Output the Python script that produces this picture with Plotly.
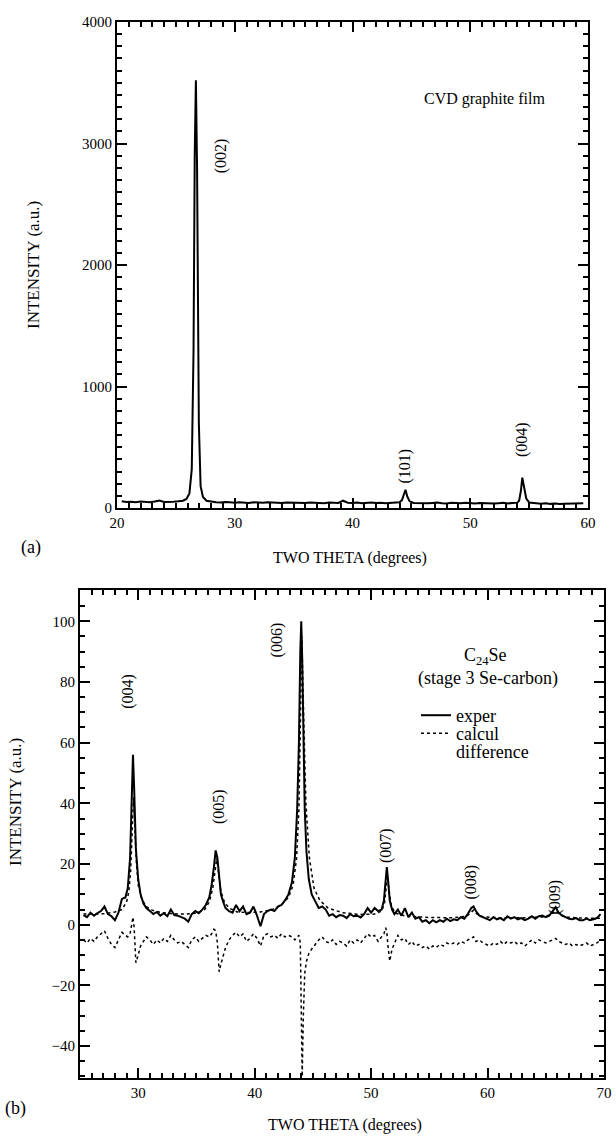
import plotly.graph_objects as go

# ---------------- panel (a): CVD graphite film ----------------
two_theta_a = [20.4, 20.8, 21.2, 21.6, 22.0, 22.4, 22.8, 23.2, 23.6, 24.0, 24.4, 24.8, 25.2, 25.6,
               25.9, 26.15, 26.35, 26.5, 26.6, 26.7, 26.8, 26.95, 27.1, 27.3, 27.6,
               28.0, 28.4, 28.8, 29.2, 29.6, 30.0, 30.4, 30.8, 31.2, 31.6, 32.0, 32.4, 32.8, 33.2,
               33.6, 34.0, 34.4, 34.8, 35.2, 35.6, 36.0, 36.4, 36.8, 37.2, 37.6, 38.0, 38.4, 38.8,
               39.2, 39.6, 40.0, 40.4, 40.8, 41.2, 41.6, 42.0, 42.4, 42.8, 43.2, 43.6, 44.0,
               44.2, 44.35, 44.5, 44.65, 44.85,
               45.2, 45.6, 46.0, 46.4, 46.8, 47.2, 47.6, 48.0, 48.4, 48.8, 49.2, 49.6, 50.0, 50.4,
               50.8, 51.2, 51.6, 52.0, 52.4, 52.8, 53.2, 53.6, 54.0,
               54.15, 54.3, 54.42, 54.55, 54.75, 55.0,
               55.6, 56.0, 56.4, 56.8, 57.2, 57.6, 58.0, 58.4, 58.8, 59.2, 59.6]
intensity_a = [55, 50, 52, 48, 54, 50, 47, 53, 62, 50, 48, 52, 55, 60,
               75, 120, 320, 1300, 2900, 3520, 2800, 700, 180, 90, 60,
               52, 48, 45, 50, 47, 44, 48, 46, 42, 47, 45, 43, 48, 44,
               46, 42, 45, 43, 47, 44, 41, 45, 42, 44, 40, 46, 43, 41,
               60, 44, 42, 45, 40, 43, 46, 41, 44, 40, 43, 45, 48,
               65, 110, 150, 95, 55,
               42, 40, 44, 39, 42, 45, 40, 38, 43, 41, 39, 44, 40, 38,
               42, 39, 41, 37, 40, 43, 38, 41, 44,
               60, 140, 250, 190, 80, 45,
               38, 35, 39, 34, 37, 33, 36, 38, 34, 37, 40]

labels_a = ["(002)", "(101)", "(004)"]
labels_a_x = [28.8, 44.5, 54.4]
labels_a_y = [2900, 345, 560]

# ---------------- panel (b): C24Se ----------------
two_theta_b = [25.3, 25.6, 25.9, 26.2, 26.5, 26.8, 27.1, 27.4, 27.7, 28.0, 28.3, 28.6, 28.9,
               29.1, 29.3, 29.45, 29.55, 29.65, 29.8, 30.0, 30.2, 30.45, 30.7, 31.0,
               31.3, 31.6, 31.9, 32.2, 32.5, 32.8, 33.1, 33.4, 33.7, 34.0, 34.3, 34.6, 34.9, 35.2, 35.5, 35.8, 36.1,
               36.3, 36.5, 36.65, 36.8, 36.95, 37.1, 37.3, 37.5, 37.8,
               38.1, 38.4, 38.7, 39.0, 39.3, 39.6, 39.9, 40.2, 40.5, 40.8, 41.1, 41.4, 41.7, 42.0, 42.3, 42.6, 42.9, 43.2,
               43.45, 43.65, 43.8, 43.92, 44.0, 44.08, 44.18, 44.3, 44.45, 44.65, 44.9,
               45.2, 45.5, 45.8, 46.1, 46.4, 46.7, 47.0, 47.3, 47.6, 47.9, 48.2, 48.5, 48.8, 49.1, 49.4, 49.7, 50.0, 50.3, 50.6, 50.9,
               51.1, 51.25, 51.35, 51.45, 51.6, 51.8,
               52.0, 52.3, 52.6, 52.9, 53.2, 53.5, 53.8, 54.1, 54.4, 54.7, 55.0, 55.3, 55.6, 55.9, 56.2, 56.5, 56.8, 57.1, 57.4, 57.7, 58.0, 58.3,
               58.6, 58.8,
               59.0, 59.3, 59.6, 59.9, 60.2, 60.5, 60.8, 61.1, 61.4, 61.7, 62.0, 62.3, 62.6, 62.9, 63.2, 63.5, 63.8, 64.1, 64.4, 64.7, 65.0, 65.3,
               65.6, 65.85,
               66.1, 66.4, 66.7, 67.0, 67.3, 67.6, 67.9, 68.2, 68.5, 68.8, 69.1, 69.4, 69.7]
exper_b = [3.2, 2.5, 4.0, 3.0, 3.8, 4.5, 6.0, 3.5, 2.8, 1.5, 4.0, 8.5, 9.0,
           12, 22, 40, 56, 45, 25, 15, 10, 7, 5.5, 4.5,
           3.5, 4.2, 3.0, 3.8, 2.8, 5.0, 3.2, 3.0, 2.6, 2.0, 1.0, 3.5, 4.5, 3.8, 5.0, 6.5, 9.0,
           13, 19, 24.5, 22, 15, 10, 7.5, 5.5, 4.5,
           4.0, 6.5, 4.5, 6.0, 3.5, 4.0, 6.0, 3.0, -0.5, 3.5, 4.5, 5.0, 4.5, 6.0, 6.5, 8.0, 10, 14,
           22, 38, 60, 90, 100, 88, 60, 38, 24, 15, 10,
           7.5, 5.5, 6.0, 5.0, 3.0, 3.5, 2.5, 3.2, 3.0, 2.2, 3.5, 2.8, 3.0, 2.4, 3.5, 5.5, 4.0, 5.5, 4.5, 5.0,
           8, 14, 19, 15, 8, 5,
           3.5, 5.0, 3.0, 5.5, 2.5, 4.0, 2.0, 2.5, 1.0, 1.5, 0.5, 1.5, 0.8, 1.5, 1.0, 2.0, 1.2, 1.8, 1.5, 2.5, 2.0, 3.5,
           5.5, 6.0,
           4.5, 3.0, 2.5, 2.0, 1.5, 2.5, 1.8, 2.2, 1.5, 2.8, 2.0, 2.5, 1.8, 2.2, 1.5, 2.0, 2.8, 2.0, 2.8, 3.0, 2.5, 3.0,
           4.5, 5.8,
           4.0, 3.0, 2.5, 2.0, 1.8, 2.2, 1.5, 1.5, 2.0, 1.5, 1.8, 2.2, 3.5]
difference_b = [-5.0, -6.0, -4.5, -5.5, -4.0, -3.0, -2.0, -4.5, -6.5, -7.5, -5.0, -2.5, -3.5,
                -4.0, -3.0, 0.5, 2.5, -1.0, -12.5, -10.0, -7.0, -5.5, -4.0, -5.0,
                -6.5, -5.0, -6.0, -4.5, -5.5, -3.5, -5.0, -6.0, -5.5, -6.5, -7.5, -5.0, -4.0, -5.5, -4.5, -3.5, -4.0,
                -3.0, -1.5, -2.0, -6.0, -15.5, -13.0, -10.0, -7.5, -5.0,
                -3.5, -2.5, -4.0, -3.0, -5.5, -4.5, -3.0, -4.5, -7.0, -3.5, -3.0, -4.0, -3.5, -4.5, -3.0, -4.0, -3.5, -4.0,
                -5.0, -4.0, -3.5, -6.0, -30.0, -50.0, -30.0, -16.0, -12.0, -9.5, -8.0,
                -6.5, -5.0, -4.0, -5.5, -6.0, -5.0, -6.5, -5.5, -6.0, -7.0, -5.0, -6.0, -5.0, -6.0, -4.5, -3.0, -4.0, -3.5, -5.5, -4.0,
                -3.0, -1.0, -2.5, -7.0, -12.0, -8.0,
                -6.0, -3.5, -5.0, -4.5, -6.5, -5.5, -7.0, -6.5, -7.5, -7.0, -8.0, -7.0, -7.5, -6.5, -7.0, -6.0, -6.5, -6.0, -6.5, -5.5, -6.0, -5.0,
                -4.5, -4.0,
                -5.5, -5.0, -6.0, -6.5, -7.0, -6.0, -6.5, -5.5, -6.5, -5.5, -6.0, -5.5, -6.5, -6.0, -7.0, -6.0, -5.0, -6.0, -5.0, -5.5, -6.0, -5.5,
                -5.0, -4.5,
                -5.5, -6.0, -6.5, -6.0, -7.0, -6.5, -7.0, -6.5, -6.0, -7.0, -6.5, -6.0, -5.0]

two_theta_calc = [25.3, 26, 27, 28, 28.6, 29.0, 29.2, 29.35, 29.5, 29.6,
                  29.7, 29.85, 30.0, 30.3, 30.7, 31.2, 32, 33, 34, 35,
                  35.7, 36.1, 36.4, 36.6, 36.75, 36.9, 37.1, 37.4, 37.8, 38.5,
                  39.5, 40.5, 41.5, 42.3, 42.9, 43.3, 43.6, 43.8, 43.95, 44.05,
                  44.2, 44.4, 44.7, 45.1, 45.6, 46.3, 47.5, 49, 50.3, 50.9,
                  51.15, 51.3, 51.4, 51.55, 51.75, 52.1, 53, 55, 57, 58.2,
                  58.6, 58.8, 59.1, 59.6, 61, 63, 64.9, 65.5, 65.85, 66.2,
                  66.8, 68, 69.8]
calcul_b = [3.5, 3.5, 3.6, 4.2, 5.0, 7.5, 11, 18, 35, 42,
            33, 20, 13, 8.5, 6, 4.8, 4.0, 3.6, 3.5, 3.8,
            5, 7.5, 12, 19, 22, 17, 11, 7.5, 5.5, 4.2,
            4.0, 4.2, 5.0, 6.5, 9, 13, 22, 38, 70, 95,
            70, 40, 22, 12, 8, 5.5, 4.0, 3.4, 3.5, 4.5,
            7, 12, 16, 11, 6, 3.8, 2.8, 2.4, 2.3, 2.8,
            4.0, 4.8, 3.5, 2.6, 2.3, 2.3, 2.6, 3.6, 4.6, 3.4,
            2.5, 2.2, 2.1]

labels_b = ["(004)", "(005)", "(006)", "(007)", "(008)", "(009)"]
labels_b_x = [29.1, 37.0, 42.0, 51.3, 58.6, 65.8]
labels_b_y = [77, 39, 94, 26, 14, 9]

assert len(two_theta_a) == len(intensity_a)
assert len(two_theta_b) == len(exper_b) == len(difference_b)
assert len(two_theta_calc) == len(calcul_b)

SERIF = "Liberation Serif, Times New Roman, serif"
W, H = 616, 1136


def px_x(p):
    return p / W


def px_y(p):
    return 1 - p / H


fig = go.Figure()
fig.add_trace(go.Scatter(x=two_theta_a, y=intensity_a, mode="lines",
                         line=dict(color="black", width=2), showlegend=False,
                         xaxis="x", yaxis="y"))
fig.add_trace(go.Scatter(x=two_theta_b, y=exper_b, mode="lines", name="exper",
                         line=dict(color="black", width=2), legend="legend",
                         xaxis="x2", yaxis="y2"))
fig.add_trace(go.Scatter(x=two_theta_calc, y=calcul_b, mode="lines", name="calcul",
                         line=dict(color="black", width=1.5, dash="dot"), legend="legend2",
                         xaxis="x2", yaxis="y2"))
fig.add_trace(go.Scatter(x=two_theta_b, y=difference_b, mode="lines", name="difference",
                         line=dict(color="black", width=1.5, dash="dot"), showlegend=False,
                         xaxis="x2", yaxis="y2"))
fig.add_trace(go.Scatter(x=[None], y=[None], mode="lines", name="difference",
                         line=dict(color="rgba(0,0,0,0)", width=1), legend="legend3",
                         xaxis="x2", yaxis="y2"))

axis_common = dict(showline=True, linecolor="black", linewidth=2, mirror="allticks",
                   ticks="inside", tickcolor="black", tickwidth=2, ticklen=10,
                   showgrid=False, zeroline=False, automargin=False,
                   tickfont=dict(family=SERIF, size=15, color="black"))
minor_common = dict(ticks="inside", ticklen=5, tickwidth=1.5, tickcolor="black")

leg_common = dict(xanchor="left", yanchor="top", bgcolor="rgba(0,0,0,0)", borderwidth=0,
                  itemwidth=30, font=dict(family=SERIF, size=18, color="black"))

fig.update_layout(
    template="none",
    width=W, height=H,
    margin=dict(l=0, r=0, t=0, b=0, autoexpand=False),
    paper_bgcolor="white", plot_bgcolor="white",
    font=dict(family=SERIF, size=16, color="black"),
    xaxis=dict(domain=[px_x(117), px_x(588)], range=[20, 60], anchor="y",
               tick0=0, dtick=10, minor=dict(dtick=1, **minor_common), **axis_common),
    yaxis=dict(domain=[px_y(508), px_y(22)], range=[0, 4000], anchor="x",
               tick0=0, dtick=1000, minor=dict(dtick=100, **minor_common), **axis_common),
    xaxis2=dict(domain=[px_x(80), px_x(604)], range=[25, 70], anchor="y2",
                tick0=0, dtick=10, minor=dict(dtick=1, **minor_common), **axis_common),
    yaxis2=dict(domain=[px_y(1078), px_y(590)], range=[-50.5, 110.3], anchor="x2",
                tick0=0, dtick=20, minor=dict(dtick=5, **minor_common), **axis_common),
    legend=dict(x=px_x(416), y=px_y(697), **leg_common),
    legend2=dict(x=px_x(416), y=px_y(715), **leg_common),
    legend3=dict(x=px_x(416), y=px_y(733), **leg_common),
)

ann = []
for t, x, y in zip(labels_a, labels_a_x, labels_a_y):
    ann.append(dict(x=x, y=y, xref="x", yref="y", text=t, showarrow=False, textangle=-90,
                    xanchor="center", yanchor="middle",
                    font=dict(family=SERIF, size=16, color="black")))
for t, x, y in zip(labels_b, labels_b_x, labels_b_y):
    ann.append(dict(x=x, y=y, xref="x2", yref="y2", text=t, showarrow=False, textangle=-90,
                    xanchor="center", yanchor="middle",
                    font=dict(family=SERIF, size=16, color="black")))
ann.append(dict(x=51.2, y=3370, xref="x", yref="y", text="CVD graphite film", showarrow=False,
                xanchor="center", yanchor="middle", font=dict(family=SERIF, size=16, color="black")))
ann.append(dict(x=59.8, y=88.5, xref="x2", yref="y2", text="C<sub>24</sub>Se", showarrow=False,
                xanchor="center", yanchor="middle", font=dict(family=SERIF, size=18, color="black")))
ann.append(dict(x=60.0, y=81.0, xref="x2", yref="y2", text="(stage 3 Se-carbon)", showarrow=False,
                xanchor="center", yanchor="middle", font=dict(family=SERIF, size=18, color="black")))


def paper_text(text, x, y, size, angle=0):
    return dict(x=px_x(x), y=px_y(y), xref="paper", yref="paper", text=text, showarrow=False,
                xanchor="center", yanchor="middle", textangle=angle,
                font=dict(family=SERIF, size=size, color="black"))


ann.append(paper_text("TWO THETA (degrees)", 350, 558, 16))
ann.append(paper_text("TWO THETA (degrees)", 345, 1125, 16))
ann.append(paper_text("INTENSITY (a.u.)", 33, 265, 17, -90))
ann.append(paper_text("INTENSITY (a.u.)", 15, 802, 17, -90))
ann.append(paper_text("(a)", 31, 547, 18))
ann.append(paper_text("(b)", 15, 1108, 18))
fig.update_layout(annotations=ann)

fig.write_html("out.html", config={"displayModeBar": False},
               post_script="document.body.style.margin='0';document.body.style.overflow='hidden';")
